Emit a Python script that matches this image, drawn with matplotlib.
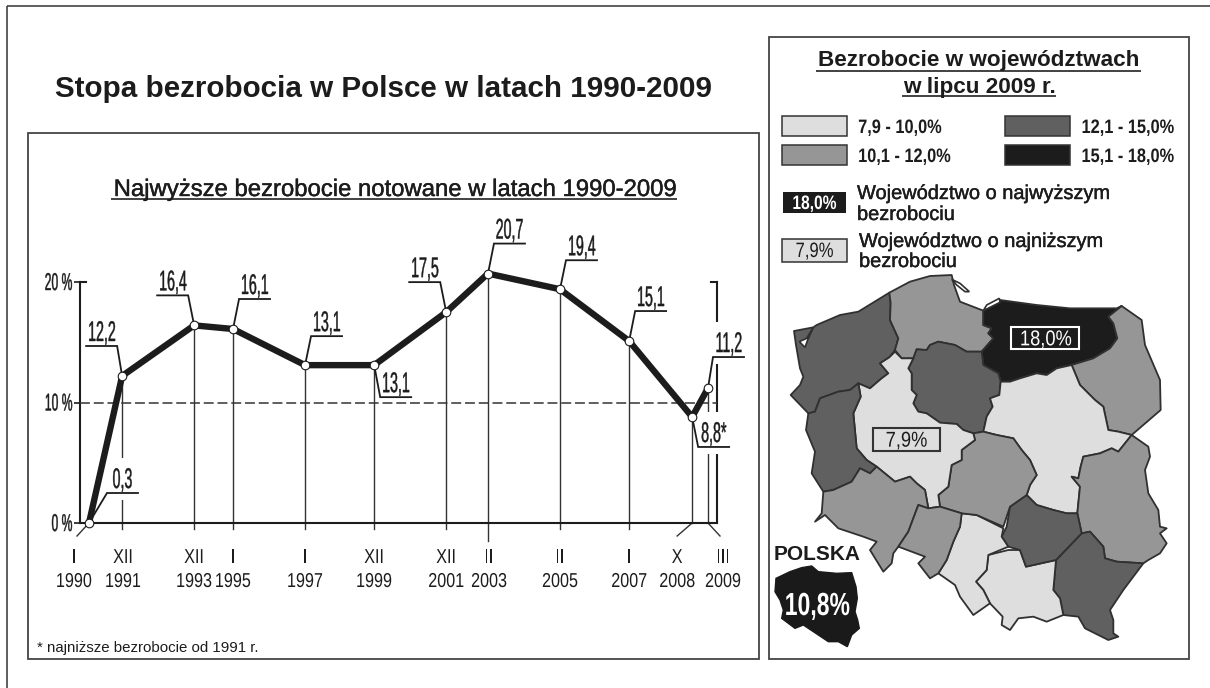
"""Stopa bezrobocia w Polsce 1990-2009: line chart plus voivodeship map."""
import matplotlib
matplotlib.use("Agg")
import matplotlib.pyplot as plt
from matplotlib.patches import Polygon, Rectangle
from matplotlib.patheffects import AbstractPathEffect, withStroke
from matplotlib.transforms import Affine2D

INK = "#1c1c1c"
LINE = "#333333"
plt.rcParams.update({"font.family": ["Liberation Sans", "DejaVu Sans"], "text.color": INK})

# ---------------------------------------------------------------- data
months = ["I", "XII", "XII", "I", "I", "XII", "XII", "II", "II", "I", "X", "III"]
years = ["1990", "1991", "1993", "1995", "1997", "1999", "2001", "2003", "2005", "2007", "2008", "2009"]
# position along the drawn axis (not quite to scale in the original)
time_pos = [1991.0, 1991.92, 1993.92, 1995.0, 1997.0, 1998.92, 2000.92, 2002.08, 2004.08, 2006.0, 2007.75, 2008.19]
# first point is labelled 0,3 but sits on the baseline in the original
rates = [0.0, 12.2, 16.4, 16.1, 13.1, 13.1, 17.5, 20.7, 19.4, 15.1, 8.8, 11.2]
rate_labels = ["0,3", "12,2", "16,4", "16,1", "13,1", "13,1", "17,5", "20,7", "19,4", "15,1", "8,8*", "11,2"]
y_ticks = [0, 10, 20]
y_tick_labels = ["0 %", "10 %", "20 %"]

class_labels = ["7,9 - 10,0%", "10,1 - 12,0%", "12,1 - 15,0%", "15,1 - 18,0%"]
class_colors = ["#dedede", "#969696", "#606060", "#1c1c1c"]

# voivodeship outlines (map axes units)
regions = {
    "zachodniopomorskie": (2, [(72, 183), (130, 172), (140, 165), (210, 135), (265, 125), (358, 68), (362, 100), (360, 150), (385, 205), (375, 240), (358, 262), (330, 280), (355, 310), (335, 325), (300, 355), (265, 340), (240, 360), (205, 365), (150, 385), (135, 425), (115, 430), (62, 375), (90, 345), (100, 320), (90, 295), (78, 225)]),
    "pomorskie": (1, [(358, 68), (420, 35), (480, 18), (545, 15), (552, 45), (570, 95), (640, 122), (640, 165), (665, 175), (655, 190), (670, 205), (635, 245), (590, 245), (555, 225), (505, 215), (480, 225), (470, 240), (440, 238), (430, 265), (395, 265), (375, 240), (385, 205), (360, 150), (362, 100)]),
    "warminsko-mazurskie": (3, [(640, 122), (690, 90), (800, 105), (900, 115), (1040, 115), (1055, 108), (1015, 140), (1030, 160), (1042, 205), (1020, 235), (970, 265), (905, 285), (860, 295), (830, 315), (800, 310), (750, 325), (720, 335), (692, 335), (685, 310), (640, 285), (635, 245), (670, 205), (655, 190), (665, 175), (640, 165)]),
    "podlaskie": (1, [(1055, 108), (1115, 150), (1125, 225), (1170, 330), (1172, 420), (1085, 495), (1045, 485), (1015, 480), (1000, 410), (975, 390), (950, 365), (930, 345), (905, 285), (970, 265), (1020, 235), (1042, 205), (1030, 160), (1015, 140)]),
    "kujawsko-pomorskie": (2, [(480, 225), (505, 215), (555, 225), (590, 245), (635, 245), (640, 285), (685, 310), (692, 335), (688, 375), (660, 385), (668, 410), (650, 440), (640, 485), (610, 490), (580, 480), (560, 462), (510, 458), (470, 430), (445, 425), (430, 400), (440, 375), (425, 360), (425, 310), (415, 295), (430, 265), (440, 238), (470, 240)]),
    "mazowieckie": (0, [(692, 335), (720, 335), (750, 325), (800, 310), (830, 315), (860, 295), (905, 285), (930, 345), (950, 365), (975, 390), (1000, 410), (1015, 480), (1045, 485), (1085, 495), (1045, 545), (1025, 535), (990, 550), (940, 560), (932, 590), (925, 625), (905, 620), (930, 650), (922, 730), (890, 730), (850, 720), (800, 705), (770, 675), (780, 645), (800, 615), (780, 570), (755, 540), (730, 505), (680, 495), (640, 485), (650, 440), (668, 410), (660, 385), (688, 375)]),
    "lubelskie": (1, [(1085, 495), (1135, 530), (1140, 560), (1125, 600), (1135, 670), (1165, 720), (1170, 770), (1190, 775), (1170, 790), (1190, 820), (1170, 850), (1135, 870), (1120, 880), (1040, 875), (1005, 865), (1000, 830), (960, 785), (935, 790), (922, 730), (930, 650), (905, 620), (925, 625), (932, 590), (940, 560), (990, 550), (1025, 535), (1045, 545)]),
    "podkarpackie": (2, [(935, 790), (960, 785), (1000, 830), (1005, 865), (1040, 875), (1120, 880), (1060, 960), (1020, 1020), (1030, 1050), (1030, 1090), (1045, 1100), (1015, 1110), (945, 1075), (925, 1040), (880, 1035), (870, 985), (850, 960), (858, 870)]),
    "malopolskie": (0, [(655, 855), (715, 840), (750, 840), (768, 890), (858, 870), (850, 960), (870, 985), (880, 1035), (830, 1055), (790, 1040), (745, 1045), (720, 1080), (695, 1065), (698, 1040), (660, 1000), (640, 960), (618, 935), (650, 900)]),
    "swietokrzyskie": (2, [(770, 675), (800, 705), (850, 720), (890, 730), (922, 730), (935, 790), (858, 870), (768, 890), (750, 840), (715, 830), (695, 800), (710, 770), (720, 710)]),
    "slaskie": (0, [(575, 730), (620, 735), (700, 775), (695, 800), (715, 830), (655, 855), (650, 900), (618, 935), (640, 960), (660, 1000), (610, 1035), (570, 980), (555, 945), (505, 910), (530, 870), (550, 815), (570, 770)]),
    "lodzkie": (1, [(640, 485), (680, 495), (730, 505), (755, 540), (780, 570), (800, 615), (780, 645), (770, 675), (720, 710), (700, 770), (620, 735), (575, 730), (510, 710), (505, 675), (535, 650), (545, 585), (575, 570), (575, 540), (615, 510), (610, 490)]),
    "wielkopolskie": (0, [(375, 245), (395, 265), (430, 265), (415, 295), (425, 310), (425, 360), (440, 375), (430, 400), (445, 425), (470, 430), (510, 458), (560, 462), (580, 480), (610, 490), (615, 510), (575, 540), (575, 570), (545, 585), (535, 650), (505, 675), (510, 710), (475, 715), (465, 660), (440, 640), (420, 620), (375, 635), (320, 590), (290, 570), (260, 535), (250, 430), (272, 380), (265, 340), (300, 355), (335, 325), (355, 310), (330, 280), (358, 262)]),
    "lubuskie": (2, [(150, 385), (205, 365), (240, 360), (265, 340), (272, 380), (250, 430), (260, 535), (290, 570), (320, 590), (300, 610), (270, 595), (245, 635), (190, 660), (160, 665), (125, 610), (135, 545), (108, 480), (115, 430), (135, 425)]),
    "dolnoslaskie": (1, [(160, 665), (190, 660), (245, 635), (270, 595), (300, 610), (320, 590), (375, 635), (420, 620), (440, 640), (465, 660), (475, 715), (445, 705), (415, 785), (385, 830), (370, 850), (365, 880), (340, 905), (300, 840), (320, 815), (280, 800), (205, 775), (165, 735), (135, 755), (155, 730)]),
    "opolskie": (1, [(445, 705), (475, 715), (510, 710), (575, 730), (570, 770), (550, 815), (530, 870), (505, 910), (480, 925), (445, 880), (465, 860), (385, 830), (415, 785)]),
}
szczecin_lagoon = [(130, 172), (110, 205), (88, 215), (105, 232), (113, 210)]
hel_peninsula = [(545, 28), (570, 40), (598, 65), (585, 65), (560, 45)]
vistula_lagoon = [(640, 122), (690, 97), (688, 85), (650, 105)]
poland_inset = [(18, 925), (60, 905), (95, 893), (125, 888), (145, 905), (200, 910), (245, 908), (258, 950), (262, 985), (255, 1025), (263, 1050), (268, 1075), (245, 1095), (232, 1130), (205, 1115), (175, 1115), (130, 1085), (100, 1065), (75, 1075), (35, 1045), (40, 1020), (30, 990), (15, 965)]


class Squeeze(AbstractPathEffect):
    """Draw text narrower around its centre; the original uses a condensed face."""
    def __init__(self, sx, lw=0.0, sy=1.0):
        super().__init__()
        self.sx = sx
        self.lw = lw
        self.sy = sy

    def draw_path(self, renderer, gc, tpath, affine, rgbFace=None):
        box = tpath.get_extents()
        cx = (box.x0 + box.x1) / 2
        squeezed = Affine2D().translate(-cx, 0).scale(self.sx, self.sy).translate(cx, 0) + affine
        gc.set_linewidth(self.lw)
        renderer.draw_path(gc, tpath, squeezed, rgbFace)


W, H = 1210, 688
fig = plt.figure(figsize=(W / 100, H / 100), dpi=100, facecolor="white")


def axes_px(x0, y0, x1, y1, **kw):
    return fig.add_axes([x0 / W, 1 - y1 / H, (x1 - x0) / W, (y1 - y0) / H], **kw)


# page axes in picture pixels, for frames and free text
page = axes_px(0, 0, W, H, zorder=0)
page.set_xlim(0, W); page.set_ylim(H, 0); page.axis("off")
px = page.transData


def rule(x0, y0, x1, y1, lw=1.0, color=LINE):
    page.plot([x0, x1], [y0, y1], color=color, lw=lw, solid_capstyle="butt")


rule(7, 6, W, 6, 1.1); rule(7, 6, 7, H, 1.1)
page.add_patch(Rectangle((28, 133), 731, 526, fc="none", ec="#444444", lw=1.3))
page.add_patch(Rectangle((769, 37), 420, 622, fc="none", ec="#444444", lw=1.3))

page.text(55, 97, "Stopa bezrobocia w Polsce w latach 1990-2009", fontsize=21.3, weight="bold")
page.text(395, 196, "Najwyższe bezrobocie notowane w latach 1990-2009", fontsize=17.2, ha="center",
          path_effects=[withStroke(linewidth=0.3, foreground=INK)])
rule(111, 198.5, 677, 198.5, 1.3)
page.text(37, 652, "* najniższe bezrobocie od 1991 r.", fontsize=10.8)

# ---------------------------------------------------------------- line chart
ax = axes_px(80, 282, 717, 523, zorder=2)
ax.patch.set_alpha(0)
ax.set_xlim(1990.75, 2008.44); ax.set_ylim(0, 20)
for s in ("top", "right"):
    ax.spines[s].set_visible(False)
for s in ("left", "bottom"):
    ax.spines[s].set_linewidth(1.5); ax.spines[s].set_color(INK)
ax.set_xticks([]); ax.set_yticks(y_ticks, [""] * 3)
ax.tick_params(axis="y", length=4, width=1.2, color=INK)

# right-hand rule and the small caps at 20 %
ax.plot([1, 1], [0, 1], transform=ax.transAxes, color=INK, lw=1.5, clip_on=False, zorder=1)
ax.plot([1, 0.99], [1, 1], transform=ax.transAxes, color=INK, lw=1.5, clip_on=False, zorder=1)
ax.plot([0, 0.01], [1, 1], transform=ax.transAxes, color=INK, lw=1.5, clip_on=False, zorder=1)


def to_page(x, y):
    return px.inverted().transform(ax.transData.transform((x, y)))


# drop lines from each point down through the baseline
for i, (t, r) in enumerate(zip(time_pos, rates)):
    x, y = to_page(t, r)
    base = to_page(t, 0)[1]
    if i == 0:
        ends = (x - 12, base + 13)
    elif years[i] == "2008":
        ends = (x - 15, base + 13)
    elif years[i] == "2009":
        ends = (x + 12, base + 13)
    else:
        ends = (x, base + (18 if years[i] == "2003" else 6))
    if i:
        ax.plot([x, x], [y, base], color=LINE, lw=1.0, transform=px, clip_on=False, zorder=1)
    ax.plot([x, ends[0]], [base, ends[1]], color=LINE, lw=1.0, transform=px, clip_on=False, zorder=1)

# callouts: elbow offset from the point, underline direction
elbows = [(18, -30, 1), (-5, -30, -1), (-6, -30, -1), (6, -30, 1), (6, -29, 1), (6, 32, 1),
          (-6, -30, -1), (6, -30, 1), (6, -29, 1), (6, -30, 1), (6, 30, 1), (5, -31, 1)]
for t, r, lab, (dx, dy, side) in zip(time_pos, rates, rate_labels, elbows):
    x, y = to_page(t, r)
    ex, ey = x + dx, y + dy
    end = ex + side * 31
    left = min(ex, end)
    ax.add_patch(Rectangle((left, ey - 35), 31, 42, fc="white", ec="none", transform=px, clip_on=False, zorder=2))
    ax.plot([x, ex, end], [y, ey, ey], color=INK, lw=1.3, transform=px, clip_on=False, zorder=3.5,
            solid_joinstyle="miter")
    ax.text(left + 15.5, ey - 5, lab, fontsize=20.5, ha="center", va="baseline", transform=px, zorder=6,
            path_effects=[Squeeze(0.5, 0.3)])

ax.axhline(10, color=LINE, lw=1.1, ls=(0, (6.5, 2.5)), zorder=3)
ax.plot(time_pos, rates, color=INK, lw=4.6, zorder=4, clip_on=False, solid_joinstyle="miter")
ax.plot(time_pos, rates, ls="none", marker="o", ms=6.2, mfc="white", mec=INK, mew=0.8, zorder=5, clip_on=False)

for v, lab in zip(y_ticks, y_tick_labels):
    page.text(58.5 if v else 62, to_page(time_pos[0], v)[1] + 8, lab, fontsize=17.5, ha="center", va="baseline",
              path_effects=[Squeeze(0.5, 0.3)])

label_shift = {0: -15, 1: 1, 7: 1, 10: -15, 11: 15}
for i, (t, mon, yr) in enumerate(zip(time_pos, months, years)):
    x = to_page(t, 0)[0] + label_shift.get(i, 0)
    tall = [Squeeze(0.93, 0.0, 1.16)]
    page.text(x, 563, mon, fontsize=12.5, ha="center", va="baseline", path_effects=tall)
    page.text(x, 587, yr, fontsize=12.5, ha="center", va="baseline", path_effects=tall)

# ---------------------------------------------------------------- right panel, legend
page.text(979, 66, "Bezrobocie w województwach", fontsize=16.2, weight="bold", ha="center")
rule(816, 70.5, 1141, 70.5, 1.3)
page.text(979, 93, "w lipcu 2009 r.", fontsize=16.2, weight="bold", ha="center")
rule(902, 96, 1056, 96, 1.3)

swatches = [(782, 116), (782, 145), (1005, 116), (1005, 145)]
text_centres = [900, 904.5, 1128, 1128]
for (x, y), c, lab, tc in zip(swatches, class_colors, class_labels, text_centres):
    page.add_patch(Rectangle((x, y), 65, 20, fc=c, ec="#333333", lw=1.1))
    page.text(tc, y + 17, lab, fontsize=14, weight="bold", ha="center", va="baseline",
              path_effects=[Squeeze(0.84)])

page.add_patch(Rectangle((783, 192), 63, 21, fc=class_colors[3], ec="none"))
page.text(814.5, 209, "18,0%", color="white", fontsize=14, weight="bold", ha="center", path_effects=[Squeeze(0.8)])
page.add_patch(Rectangle((782, 239), 65, 23, fc=class_colors[0], ec="#333333", lw=1.1))
page.text(814.5, 257, "7,9%", fontsize=15, ha="center", path_effects=[Squeeze(0.8)])
stroke = [withStroke(linewidth=0.3, foreground=INK)]
page.text(857, 199, "Województwo o najwyższym", fontsize=14.4, path_effects=stroke)
page.text(857, 220, "bezrobociu", fontsize=14.4, path_effects=stroke)
page.text(859, 247, "Województwo o najniższym", fontsize=14.4, path_effects=stroke)
page.text(859, 267, "bezrobociu", fontsize=14.4, path_effects=stroke)

# ---------------------------------------------------------------- map
mp = axes_px(770, 270, 1190, 660, zorder=1)
mp.patch.set_alpha(0)
mp.set_xlim(0, 1260); mp.set_ylim(1170, 0); mp.axis("off")
for name, (cls, outline) in regions.items():
    mp.add_patch(Polygon(outline, closed=True, fc=class_colors[cls], ec="#303030", lw=1.3, joinstyle="round"))
mp.add_patch(Polygon(szczecin_lagoon, closed=True, fc="white", ec="#303030", lw=1.2))
mp.add_patch(Polygon(hel_peninsula, closed=True, fc="white", ec="#303030", lw=1.2))
mp.add_patch(Polygon(vistula_lagoon, closed=True, fc="white", ec="#303030", lw=1.2))
mp.add_patch(Polygon(poland_inset, closed=True, fc="#1a1a1a", ec="#1a1a1a", lw=1.0))

mp.add_patch(Rectangle((724, 170), 204, 68, fc=class_colors[3], ec="white", lw=1.5))
mp.text(827, 226, "18,0%", color="white", fontsize=15.5, ha="center", va="baseline", path_effects=[Squeeze(0.85)])
mp.add_patch(Rectangle((308, 473), 202, 69, fc=class_colors[0], ec="#333333", lw=1.5))
mp.text(409, 530, "7,9%", fontsize=15.5, ha="center", va="baseline", path_effects=[Squeeze(0.85)])
mp.text(140, 870, "POLSKA", fontsize=15, weight="bold", ha="center", va="baseline")
mp.text(142, 1035, "10,8%", color="white", fontsize=23, weight="bold", ha="center", va="baseline",
        path_effects=[Squeeze(0.72)])

fig.savefig("out.png", dpi=100, facecolor="white")
